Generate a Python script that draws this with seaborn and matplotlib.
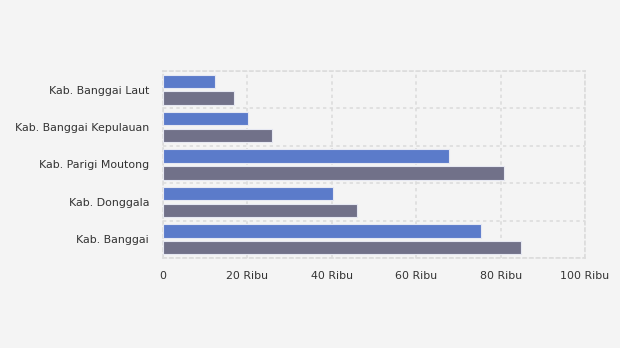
import matplotlib
matplotlib.use("Agg")
import matplotlib.pyplot as plt
from matplotlib.ticker import FuncFormatter, FixedLocator
import seaborn as sns
import pandas as pd

# Wilayah (atas ke bawah) dan nilai dua seri
wilayah = ["Kab. Banggai Laut", "Kab. Banggai Kepulauan", "Kab. Parigi Moutong",
           "Kab. Donggala", "Kab. Banggai"]
seri_1 = [12300, 20100, 67800, 40300, 75400]
seri_2 = [16800, 25800, 80800, 46000, 84800]
nama_seri = ["Seri 1", "Seri 2"]
x_ticks = [0, 20000, 40000, 60000, 80000, 100000]

df = pd.DataFrame({
    "wilayah": wilayah * 2,
    "nilai": seri_1 + seri_2,
    "seri": [nama_seri[0]] * len(wilayah) + [nama_seri[1]] * len(wilayah),
})

sns.set_style("white")
plt.rcParams["font.family"] = ["DejaVu Sans"]

bg = "#f4f4f4"
grid_c = "#dcdcdc"
fig = plt.figure(figsize=(6.2, 3.48), dpi=100, facecolor=bg)
ax = fig.add_axes([0.263, 0.2586, 0.6805, 0.5374], facecolor=bg)

sns.barplot(data=df, y="wilayah", x="nilai", hue="seri", order=wilayah,
            palette=["#5b7bca", "#717189"], saturation=1, width=0.9, gap=0.21,
            edgecolor="#e6e8f2", linewidth=0.8, legend=False, ax=ax, zorder=3)

ax.set_xlim(0, 100000)
ax.set_ylim(len(wilayah) - 0.5, -0.5)
ax.xaxis.set_major_locator(FixedLocator(x_ticks))
ax.xaxis.set_major_formatter(FuncFormatter(
    lambda v, p: "0" if v == 0 else f"{int(round(v / 1000))} Ribu"))
ax.yaxis.set_minor_locator(FixedLocator([i - 0.5 for i in range(len(wilayah) + 1)]))

ax.set_xlabel("")
ax.set_ylabel("")

dots = (0, (2, 2))
ax.grid(axis="x", which="major", color=grid_c, linestyle=dots, linewidth=1.2, zorder=0)
ax.grid(axis="y", which="minor", color=grid_c, linestyle=dots, linewidth=1.2, zorder=0)
ax.grid(axis="y", which="major", visible=False)
for s in ax.spines.values():
    s.set_color(grid_c)
    s.set_linestyle(dots)
    s.set_linewidth(1.2)

ax.tick_params(axis="x", length=0, pad=9, labelsize=7.9, labelcolor="#333333")
ax.tick_params(axis="y", which="major", length=4, color=grid_c, pad=6,
               labelsize=7.9, labelcolor="#333333")
ax.tick_params(axis="y", which="minor", length=0)

fig.savefig("out.png", dpi=100, facecolor=bg)
